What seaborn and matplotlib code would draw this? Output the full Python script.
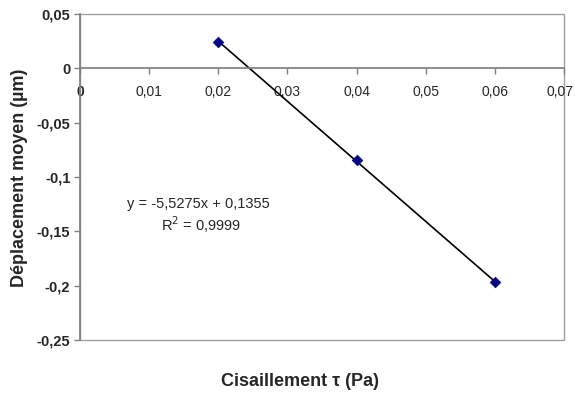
import matplotlib
matplotlib.use("Agg")
import matplotlib.pyplot as plt
import matplotlib.ticker as mticker
import matplotlib.transforms as mtransforms
from matplotlib.patches import Rectangle
import seaborn as sns
import numpy as np
import pandas as pd

# Data
shear = [0.02, 0.04, 0.06]
displacement = [0.0245, -0.0845, -0.1967]
slope = -5.5275
intercept = 0.1355
eq_text = "y = -5,5275x + 0,1355"
r2_text = "R$^2$ = 0,9999"
x_ticks = [0, 0.01, 0.02, 0.03, 0.04, 0.05, 0.06, 0.07]
y_ticks = [0.05, 0, -0.05, -0.1, -0.15, -0.2, -0.25]

sns.set_theme(style="white")
plt.rcParams['font.family'] = ['Liberation Sans', 'DejaVu Sans']

fig = plt.figure(figsize=(5.75, 3.94), dpi=100)
ax = fig.add_axes([80/575, 1-340/394, (564-80)/575, (340-14)/394])

df = pd.DataFrame({"x": shear, "y": displacement})
fit = pd.DataFrame({"x": shear, "y": [slope*v + intercept for v in shear]})
sns.lineplot(data=fit, x="x", y="y", ax=ax, color="black", linewidth=1.2)
sns.scatterplot(data=df, x="x", y="y", ax=ax, marker="D", color="#000080",
                s=30, edgecolor="#000080", zorder=5)

ax.set_xlim(0, 0.07)
ax.set_ylim(-0.25, 0.05)

def fmt(v, pos=None):
    s = f"{v:g}"
    return s.replace(".", ",")

ax.set_xticks(x_ticks)
ax.set_yticks(y_ticks)
ax.xaxis.set_major_formatter(mticker.FuncFormatter(fmt))
ax.yaxis.set_major_formatter(mticker.FuncFormatter(fmt))

for sp in ["top", "right"]:
    ax.spines[sp].set_visible(False)
ax.spines["bottom"].set_position(("data", 0))
ax.spines["bottom"].set_color("#808080")
ax.spines["left"].set_color("#808080")
ax.add_patch(Rectangle((0, 0), 1, 1, transform=ax.transAxes, fill=False,
                       edgecolor="#a0a0a0", linewidth=1.0, clip_on=False, zorder=0))

ax.tick_params(axis="x", direction="out", length=4, color="#808080", width=1,
               labelsize=10, pad=8, bottom=True)
ax.tick_params(axis="y", direction="out", length=4, color="#808080", width=1,
               labelsize=10.5, left=True, pad=3)
for lab in ax.get_yticklabels():
    lab.set_fontweight("bold")
xlabs = ax.get_xticklabels()
xlabs[0].set_fontweight("bold")
# keep the last label inside the figure
shift = mtransforms.ScaledTranslation(-4/100, 0, fig.dpi_scale_trans)
xlabs[-1].set_transform(xlabs[-1].get_transform() + shift)

ax.set_xlabel("")
ax.set_ylabel("")
fig.text(300/575, 1-382/394, "Cisaillement τ (Pa)", ha="center", va="center",
         fontsize=13, fontweight="bold")
fig.text(20/575, 1-178/394, "Déplacement moyen (µm)", ha="center", va="center",
         rotation=90, fontsize=13, fontweight="bold")

ax.text(0.0171, -0.1245, eq_text, ha="center", va="center", fontsize=10.5)
ax.text(0.0175, -0.1435, r2_text, ha="center", va="center", fontsize=10.5)

fig.savefig("out.png", dpi=100, facecolor="white")
